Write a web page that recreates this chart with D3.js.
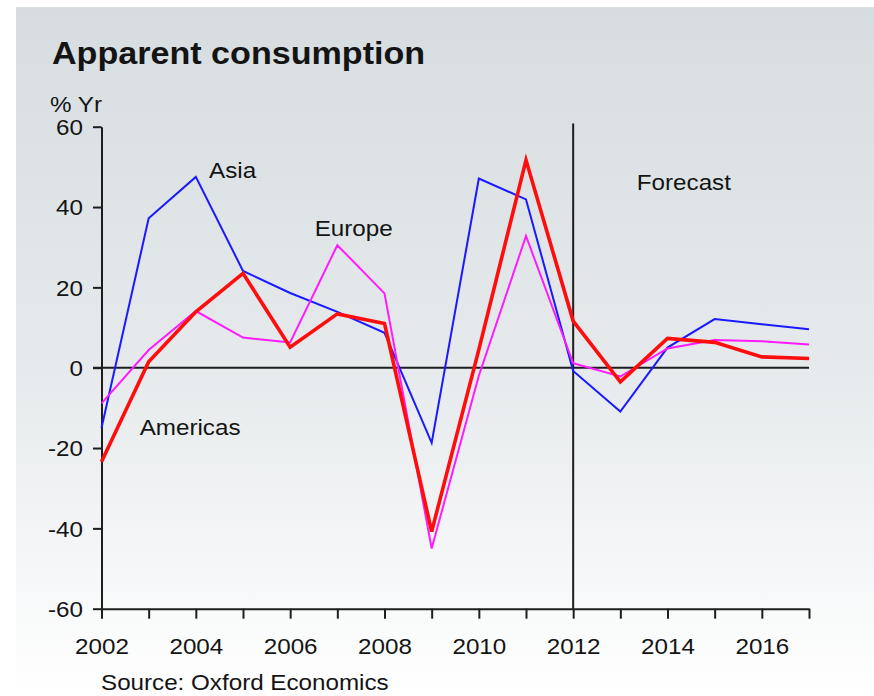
<!DOCTYPE html>
<html>
<head>
<meta charset="utf-8">
<script src="https://cdn.jsdelivr.net/npm/d3@7/dist/d3.min.js"></script>
<style>
    body { margin: 0; background: #ffffff; }
    svg { display: block; }
    text { font-family: "Liberation Sans", Arial, sans-serif; fill: #141414; }
</style>
</head>
<body>
<div id="chart"></div>
<script>
// ===========================================================
// DATA
// ===========================================================
const years = [2002, 2003, 2004, 2005, 2006, 2007, 2008, 2009, 2010, 2011, 2012, 2013, 2014, 2015, 2016, 2017];
const asia     = [-15, 37.2, 47.5, 24.1, 18.6, 13.9, 8.7, -18.7, 47.1, 41.9, -0.8, -10.9, 5.0, 12.1, 10.8, 9.6];
const europe   = [-8.9, 4.4, 14.1, 7.5, 6.3, 30.5, 18.5, -45, -2, 32.8, 1.1, -2.2, 4.8, 6.9, 6.6, 5.8];
const americas = [-23.4, 1.5, 13.9, 23.5, 5.1, 13.4, 11.0, -40.8, 4.5, 51.7, 11.6, -3.5, 7.3, 6.3, 2.7, 2.3];

const yTicks = [-60, -40, -20, 0, 20, 40, 60];
const forecastStart = 2012;

// annotation anchors (year, value of text baseline)
const seriesLabels = [
    { text: "Asia", year: 2004.28, value: 47.2 },
    { text: "Europe", year: 2006.52, value: 32.8 },
    { text: "Americas", year: 2002.81, value: -16.75 },
    { text: "Forecast", year: 2013.35, value: 44.2 }
];

const series = [
    { name: "Asia", values: asia, color: "#1a1aff", width: 2 },
    { name: "Europe", values: europe, color: "#ff1aff", width: 2 },
    { name: "Americas", values: americas, color: "#ff0d0d", width: 3.6 }
];

// ===========================================================
// SETUP
// ===========================================================
const width = 874;
const height = 696;
const stretch = 1.1;   // the original text is a little wide

const svg = d3.select("#chart").append("svg")
    .attr("width", width)
    .attr("height", height);

const defs = svg.append("defs");
const grad = defs.append("linearGradient")
    .attr("id", "bg")
    .attr("x1", 0).attr("y1", 0)
    .attr("x2", 0).attr("y2", 1);
grad.append("stop").attr("offset", "0%").attr("stop-color", "#d6dde0");
grad.append("stop").attr("offset", "50%").attr("stop-color", "#e5e9eb");
grad.append("stop").attr("offset", "100%").attr("stop-color", "#ffffff");

svg.append("rect")
    .attr("x", 16)
    .attr("y", 7)
    .attr("width", width - 16)
    .attr("height", height - 7)
    .attr("fill", "url(#bg)");

const x = d3.scaleLinear().domain([2002, 2017]).range([101.5, 809]);
const y = d3.scaleLinear().domain([-60, 60]).range([608.7, 126.7]);

function addText(parent, txt, px, py, size, weight) {
    return parent.append("text")
        .attr("transform", `translate(${px},${py}) scale(${stretch},1)`)
        .style("font-size", size + "px")
        .style("font-weight", weight || "normal")
        .text(txt);
}

// ===========================================================
// TITLES
// ===========================================================
addText(svg, "Apparent consumption", 52, 64, 31, "bold");
addText(svg, "% Yr", 50, 111.5, 22);
addText(svg, "Source: Oxford Economics", 101, 690, 22);

// ===========================================================
// AXES
// ===========================================================
const yAxis = svg.append("g")
    .attr("transform", `translate(${x(2002)},0)`)
    .call(d3.axisLeft(y)
        .tickValues(yTicks)
        .tickSize(8.5)
        .tickSizeOuter(0)
        .tickPadding(8.3)
        .tickFormat(d => String(d)));   // plain hyphen, like the original

yAxis.selectAll("text")
    .attr("transform", `scale(${stretch},1)`)
    .attr("dy", "0.36em")
    .style("font-size", "22px");

const xAxis = svg.append("g")
    .attr("transform", `translate(0,${y(-60)})`)
    .call(d3.axisBottom(x)
        .tickValues(years)
        .tickSize(10)
        .tickSizeOuter(0)
        .tickPadding(19.7)
        .tickFormat(d => d % 2 === 0 ? String(d) : ""));

xAxis.selectAll("text")
    .attr("transform", `scale(${stretch},1)`)
    .style("font-size", "22px");

svg.selectAll(".domain, .tick line")
    .attr("stroke", "#1e1e1e")
    .attr("stroke-width", 2);

// zero line
svg.append("line")
    .attr("x1", x(2002) - 8.5)
    .attr("x2", x(2017))
    .attr("y1", y(0))
    .attr("y2", y(0))
    .attr("stroke", "#1e1e1e")
    .attr("stroke-width", 2);

// forecast divider
svg.append("line")
    .attr("x1", x(forecastStart))
    .attr("x2", x(forecastStart))
    .attr("y1", y(60.8))
    .attr("y2", y(-60))
    .attr("stroke", "#1e1e1e")
    .attr("stroke-width", 2);

// ===========================================================
// LINES
// ===========================================================
const line = d3.line()
    .x((d, i) => x(years[i]))
    .y(d => y(d));

svg.append("g")
    .selectAll("path")
    .data(series)
    .join("path")
    .attr("d", d => line(d.values))
    .attr("fill", "none")
    .attr("stroke", d => d.color)
    .attr("stroke-width", d => d.width)
    .attr("stroke-linejoin", "miter");

// ===========================================================
// LABELS
// ===========================================================
seriesLabels.forEach(l => {
    addText(svg, l.text, x(l.year), y(l.value), 22);
});
</script>
</body>
</html>
